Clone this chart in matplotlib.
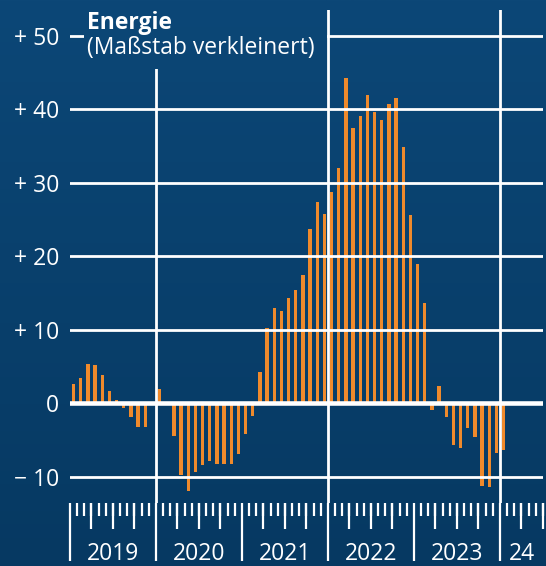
import numpy as np
import matplotlib
matplotlib.use("Agg")
import matplotlib.pyplot as plt
from matplotlib.colors import LinearSegmentedColormap
from matplotlib.transforms import blended_transform_factory

plt.rcParams['font.family'] = ['Open Sans', 'DejaVu Sans']

# Energie, Veraenderung gegenueber Vorjahr in %, monatlich ab Jan 2019
werte_2019 = [2.7, 3.5, 5.3, 5.2, 3.8, 1.7, 0.5, -0.6, -1.9, -3.2, -3.2, 0.0]
werte_2020 = [1.9, 0.0, -4.4, -9.7, -11.9, -9.3, -8.4, -7.8, -8.2, -8.2, -8.3, -6.9]
werte_2021 = [-4.2, -1.7, 4.3, 10.3, 13.0, 12.5, 14.3, 15.4, 17.5, 23.7, 27.4, 25.8]
werte_2022 = [28.7, 32.0, 44.3, 37.5, 39.1, 42.0, 39.6, 38.6, 40.7, 41.5, 34.9, 25.6]
werte_2023 = [18.9, 13.7, -0.9, 2.3, -1.8, -5.6, -6.1, -3.3, -4.6, -11.2, -11.4, -6.7]
werte_2024 = [-6.3]
energie = werte_2019 + werte_2020 + werte_2021 + werte_2022 + werte_2023 + werte_2024

jahre = [2019, 2020, 2021, 2022, 2023, 2024]
jahr_labels = ["2019", "2020", "2021", "2022", "2023", "24"]
y_ticks = [-10, 0, 10, 20, 30, 40, 50]
y_labels = ["\u2212 10", "0", "+ 10", "+ 20", "+ 30", "+ 40", "+ 50"]

BG_TOP = "#0c4777"
BG_BOT = "#063962"
ORANGE = "#ef8a2c"
W, H = 546, 566
FS = 16.5

fig = plt.figure(figsize=(W / 100, H / 100), dpi=100)
cmap = LinearSegmentedColormap.from_list("bg", [BG_TOP, BG_BOT])

# background gradient
bg = fig.add_axes([0, 0, 1, 1], zorder=-10)
bg.imshow(np.linspace(0, 1, 256).reshape(-1, 1), cmap=cmap, aspect="auto",
          extent=[0, 1, 0, 1], vmin=0, vmax=1)
bg.axis("off")

ax = fig.add_axes([70 / W, 63 / H, 473 / W, 493 / H])
ax.patch.set_alpha(0)
for s in ax.spines.values():
    s.set_visible(False)

x = 2019 + (np.arange(len(energie)) + 0.5) / 12
ax.bar(x, energie, width=0.45 / 12, color=ORANGE, zorder=2)

ax.set_xlim(2019, 2024.5)
ax.set_ylim(-13.55, 53.5)

# grid lines (on top of bars)
for v in y_ticks:
    ax.axhline(v, color="white", lw=3.3 if v == 0 else 2.0, zorder=3)
for j in [2020, 2022, 2024]:
    ax.axvline(j, color="white", lw=2.0, zorder=3)

# y axis labels
ax.set_yticks(y_ticks, y_labels)
ax.tick_params(axis="y", length=0, pad=8, labelcolor="white", labelsize=FS)

# x ticks: years long, quarters medium, months short
monate = [2019 + k / 12 for k in range(67) if k % 12 != 0]
quartale = [2019 + k / 4 for k in range(23) if k % 4 != 0]
ax.set_xticks(jahre)
ax.set_xticks(monate, minor=True)
ax.tick_params(axis="x", which="major", length=42, width=1.6, color="white",
               labelbottom=False)
ax.tick_params(axis="x", which="minor", length=9.5, width=1.6, color="white")
sec = ax.secondary_xaxis("bottom")
sec.set_xticks(quartale)
sec.tick_params(length=19, width=1.6, color="white", labelbottom=False)
for s in sec.spines.values():
    s.set_visible(False)

trans = blended_transform_factory(ax.transData, ax.transAxes)
for j, lab in zip(jahre, jahr_labels):
    xm = j + 0.5 if j < 2024 else 2024.25
    ax.text(xm, -51 / 493, lab, transform=trans, ha="center", va="center",
            color="white", fontsize=FS)

# title box covering the grid
tb = fig.add_axes([84 / W, 1 - 69 / H, 243 / W, 69 / H], zorder=5)
tb.imshow(np.linspace(0, 69 / H, 32).reshape(-1, 1), cmap=cmap, aspect="auto",
          vmin=0, vmax=1)
tb.axis("off")
fig.text(87 / W, 1 - 11 / H, "Energie", color="white", fontsize=FS,
         fontweight="bold", va="top", zorder=6)
fig.text(87 / W, 1 - 36 / H, "(Maßstab verkleinert)", color="white",
         fontsize=FS, va="top", zorder=6)

fig.savefig("out.png", dpi=100)
